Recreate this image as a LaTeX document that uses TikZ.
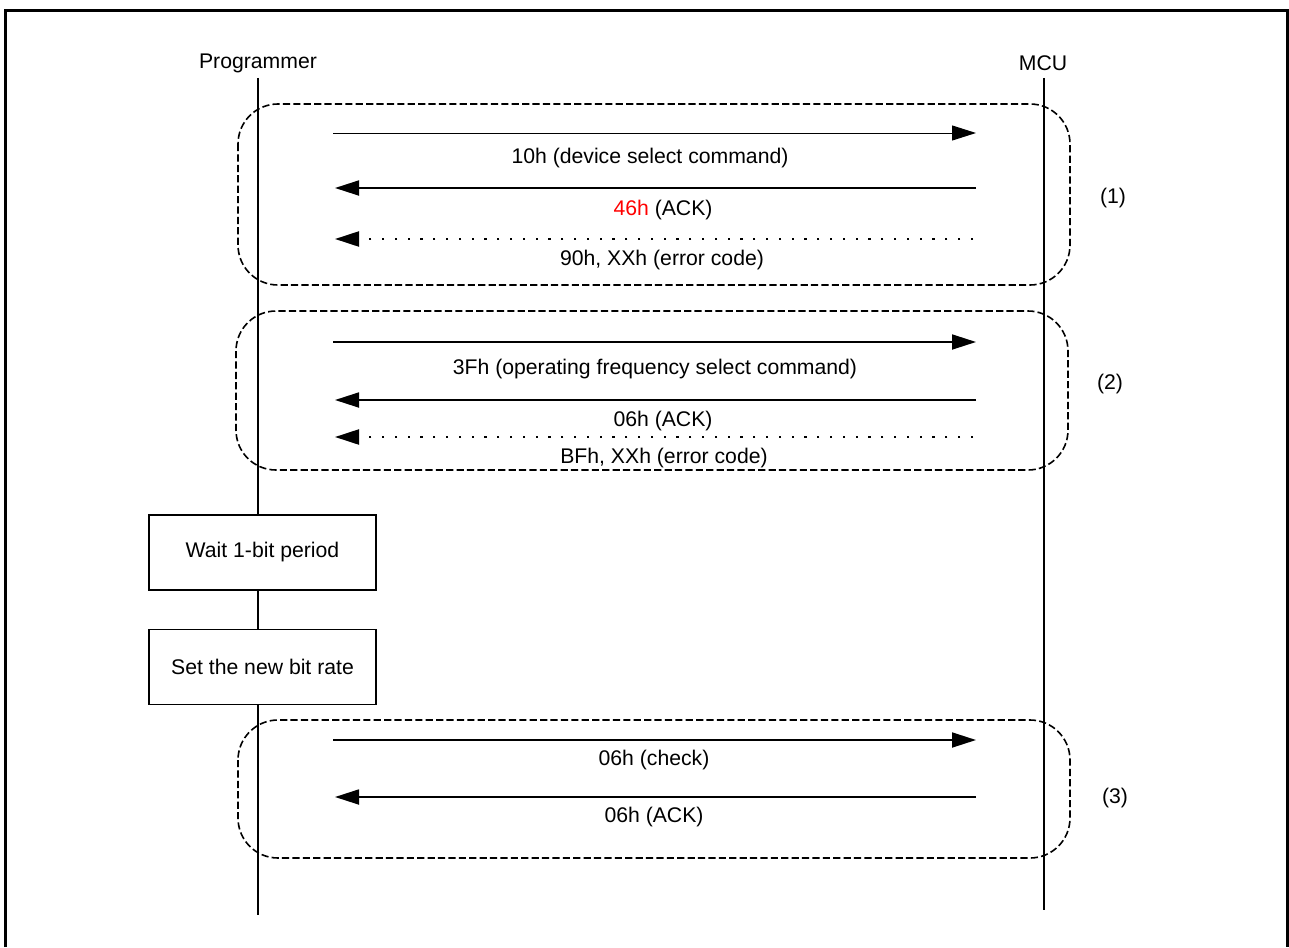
\documentclass[tikz,border=0pt]{standalone}
\usepackage{fontspec}
\setmainfont{Liberation Sans}
\usetikzlibrary{arrows.meta,positioning}
\begin{document}
\begin{tikzpicture}[x=0.5pt,y=-0.5pt,font=\fontsize{10.6}{12}\selectfont,
lifeline/.style={line width=1pt},
msg/.style={line width=0.9pt,-{Triangle[length=12pt,width=7.5pt]}},
thinmsg/.style={msg,line width=0.5pt},
errmsg/.style={msg,line width=1.1pt,dash pattern=on 1.1pt off 5.3pt},
group/.style={draw,line width=0.8pt,dash pattern=on 3.6pt off 1.6pt,rounded corners=20pt},
stepbox/.style={draw,fill=white,line width=0.7pt,minimum width=113.5pt,minimum height=37.5pt,inner sep=0pt}]
\useasboundingbox (0,0) rectangle (1289,947);
\draw[line width=1.5pt] (5.5,947) -- (5.5,10.5) -- (1287.5,10.5) -- (1287.5,947);
% lifelines
\node (prog) at (258,63) {Programmer};
\node (mcu) at (1043,63) {MCU};
\coordinate (progtop) at (258,78);
\coordinate (progend) at (258,915);
\coordinate (mcutop) at (1044,78);
\coordinate (mcuend) at (1044,910);
\draw[lifeline] (progtop) -- (progend);
\draw[lifeline] (mcutop) -- (mcuend);
% groups
\draw[group] (238,104) rectangle (1070,285);
\draw[group] (236,311) rectangle (1068,470);
\draw[group] (238,720) rectangle (1070,858);
\node (g1) at (1113,198) {(1)};
\node (g2) at (1110,384) {(2)};
\node (g3) at (1115,798) {(3)};
% (1) device select
\coordinate (p1) at (333,133); \coordinate (m1) at (976,133);
\coordinate (p2) at (335,188); \coordinate (m2) at (976,188);
\coordinate (p3) at (335,239); \coordinate (m3) at (973,239);
\draw[thinmsg] (p1) -- (m1);
\draw[msg] (m2) -- (p2);
\draw[errmsg] (m3) -- (p3);
\node (l1) at (650,158) {10h (device select command)};
\node (l2) at (663,210) {\textcolor{red}{46h} (ACK)};
\node (l3) at (662,260) {90h, XXh (error code)};
% (2) operating frequency select
\coordinate (p4) at (333,342); \coordinate (m4) at (976,342);
\coordinate (p5) at (335,400); \coordinate (m5) at (976,400);
\coordinate (p6) at (335,437); \coordinate (m6) at (973,437);
\draw[msg] (p4) -- (m4);
\draw[msg] (m5) -- (p5);
\draw[errmsg] (m6) -- (p6);
\node (l4) at (655,369) {3Fh (operating frequency select command)};
\node (l5) at (663,421) {06h (ACK)};
\node (l6) at (664,458) {BFh, XXh (error code)};
% bit rate change
\node[stepbox] (wait) at (262.5,552.5) {Wait 1-bit period};
\node[stepbox,below=19pt of wait] (setrate) {Set the new bit rate};
% (3) check
\coordinate (p7) at (333,740); \coordinate (m7) at (976,740);
\coordinate (p8) at (335,797); \coordinate (m8) at (976,797);
\draw[msg] (p7) -- (m7);
\draw[msg] (m8) -- (p8);
\node (l7) at (654,760) {06h (check)};
\node (l8) at (654,817) {06h (ACK)};
\end{tikzpicture}
\end{document}
